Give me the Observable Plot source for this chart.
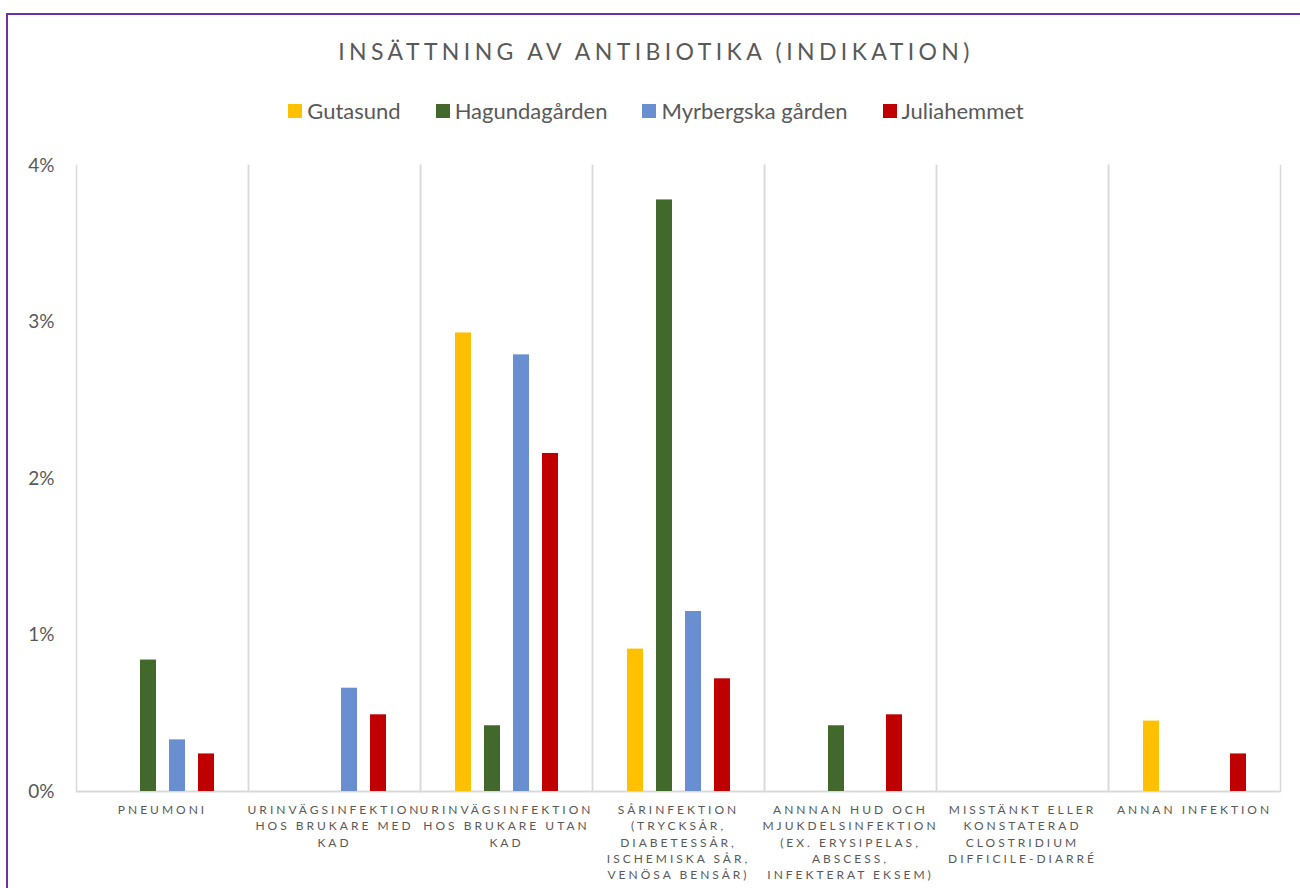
<!DOCTYPE html>
<html>
<head>
<meta charset="utf-8">
<script src="https://cdn.jsdelivr.net/npm/d3@7"></script>
<script src="https://cdn.jsdelivr.net/npm/@observablehq/plot@0.6"></script>
<style>
  html, body { margin: 0; padding: 0; width: 1300px; height: 888px; overflow: hidden; background: #fff; font-family: Lato, "Open Sans", sans-serif; }
  #border { position: absolute; left: 6px; top: 13px; width: 1320px; height: 900px; border: 2px solid #7030a0; box-sizing: border-box; }
  #title { position: absolute; left: 0; top: 37px; width: 1312px; text-align: center; font-size: 23px; letter-spacing: 4.4px; color: #595959; font-weight: 400; }
  #legend { position: absolute; left: 0; top: 97px; width: 1312px; display: flex; justify-content: center; gap: 35px; font-size: 22px; color: #595959; }
  #legend .item { display: flex; align-items: center; }
  #legend .sw { width: 14px; height: 14px; margin-right: 5px; }
  #chart { position: absolute; left: 0; top: 0; }
  #chart svg g[aria-label="fx-axis tick label"] { letter-spacing: 3px; }
</style>
</head>
<body>
<div id="border"></div>
<div id="title">INSÄTTNING AV ANTIBIOTIKA (INDIKATION)</div>
<div id="legend"></div>
<div id="chart"></div>
<script>
const categories = [
  "PNEUMONI",
  "URINVÄGSINFEKTION\nHOS BRUKARE MED\nKAD",
  "URINVÄGSINFEKTION\nHOS BRUKARE UTAN\nKAD",
  "SÅRINFEKTION\n(TRYCKSÅR,\nDIABETESSÅR,\nISCHEMISKA SÅR,\nVENÖSA BENSÅR)",
  "ANNNAN HUD OCH\nMJUKDELSINFEKTION\n(EX. ERYSIPELAS,\nABSCESS,\nINFEKTERAT EKSEM)",
  "MISSTÄNKT ELLER\nKONSTATERAD\nCLOSTRIDIUM\nDIFFICILE-DIARRÉ",
  "ANNAN INFEKTION"
];
const series = ["Gutasund", "Hagundagården", "Myrbergska gården", "Juliahemmet"];
const colors = ["#ffc000", "#43682b", "#6a8fd0", "#c00000"];
const gutasund      = [0,      0,      0.0293, 0.0091, 0,      0, 0.0045];
const hagundagarden = [0.0084, 0,      0.0042, 0.0378, 0.0042, 0, 0];
const myrbergska    = [0.0033, 0.0066, 0.0279, 0.0115, 0,      0, 0];
const juliahemmet   = [0.0024, 0.0049, 0.0216, 0.0072, 0.0049, 0, 0.0024];
const yTicks = [0, 0.01, 0.02, 0.03, 0.04];

const seriesValues = [gutasund, hagundagarden, myrbergska, juliahemmet];
const data = [];
series.forEach((s, si) => categories.forEach((c, ci) => {
  const v = seriesValues[si][ci];
  if (v > 0) data.push({cat: c, series: s, value: v});
}));

// legend
const legend = document.getElementById("legend");
series.forEach((s, i) => {
  const it = document.createElement("div");
  it.className = "item";
  it.innerHTML = `<span class="sw" style="background:${colors[i]}"></span><span>${s}</span>`;
  legend.appendChild(it);
});

const chart = Plot.plot({
  width: 1300,
  height: 888,
  marginTop: 165,
  marginBottom: 97,
  marginLeft: 76,
  marginRight: 20,
  style: {fontFamily: "Lato, 'Open Sans', sans-serif", color: "#595959", background: "transparent"},
  fx: {domain: categories, padding: 0, label: null, axis: null},
  x: {domain: series, axis: null, paddingInner: 0.458, paddingOuter: 1.144},
  y: {domain: [0, 0.04], axis: null, label: null},
  color: {domain: series, range: colors},
  marks: [
    Plot.ruleY(categories, {fx: d => d, y: () => 0, stroke: "#d9d9d9", strokeWidth: 2}),
    Plot.frame({anchor: "left", stroke: "#d9d9d9", strokeWidth: 1.5}),
    Plot.frame({anchor: "right", stroke: "#d9d9d9", strokeWidth: 1.5}),
    Plot.barY(data, {fx: "cat", x: "series", y: "value", fill: "series"}),
    Plot.axisY({ticks: yTicks, tickFormat: d => Math.round(d * 100) + "%", tickSize: 0, tickPadding: 22, fontSize: 19, fill: "#595959", label: null}),
    Plot.axisFx({anchor: "bottom", tickSize: 0, tickPadding: 11, fontSize: 12, lineHeight: 1.36, label: null, fill: "#595959"})
  ]
});
document.getElementById("chart").appendChild(chart);
</script>
</body>
</html>
